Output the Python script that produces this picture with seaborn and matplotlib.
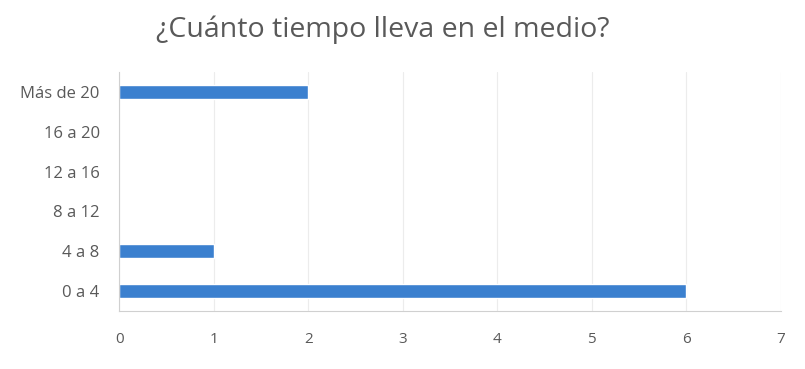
import matplotlib
matplotlib.use("Agg")
import matplotlib.pyplot as plt
import seaborn as sns
import pandas as pd

categories = ["Más de 20", "16 a 20", "12 a 16", "8 a 12", "4 a 8", "0 a 4"]
values = [2, 0, 0, 0, 1, 6]
x_ticks = [0, 1, 2, 3, 4, 5, 6, 7]

sns.set_theme(style="white")
plt.rcParams['font.family'] = ['Open Sans', 'DejaVu Sans']

df = pd.DataFrame({"cat": categories, "val": values})

fig = plt.figure(figsize=(8.05, 3.69), dpi=100)
ax = fig.add_axes([0.148, 0.157, 0.822, 0.648])
sns.barplot(data=df, y="cat", x="val", order=categories, color="#3b80cf",
            width=0.36, ax=ax, saturation=1)
ax.set_xlim(0, 7)
ax.set_ylim(5.5, -0.5)
ax.set_xticks(x_ticks)
ax.set_xticklabels([str(t) for t in x_ticks])
ax.xaxis.grid(True, color="#ececec", linewidth=0.8)
ax.set_axisbelow(True)
ax.set_xlabel("")
ax.set_ylabel("")
for s in ["top", "right"]:
    ax.spines[s].set_visible(False)
for s in ["left", "bottom"]:
    ax.spines[s].set_color("#d0d0d0")
    ax.spines[s].set_linewidth(0.8)
ax.tick_params(axis="both", length=0, labelcolor="#595959")
ax.tick_params(axis="x", labelsize=11, pad=15)
ax.tick_params(axis="y", labelsize=12, pad=14)
fig.text(0.476, 0.919, "¿Cuánto tiempo lleva en el medio?", ha="center", va="center",
         fontsize=20.5, color="#595959")
fig.savefig("out.png", dpi=100)
